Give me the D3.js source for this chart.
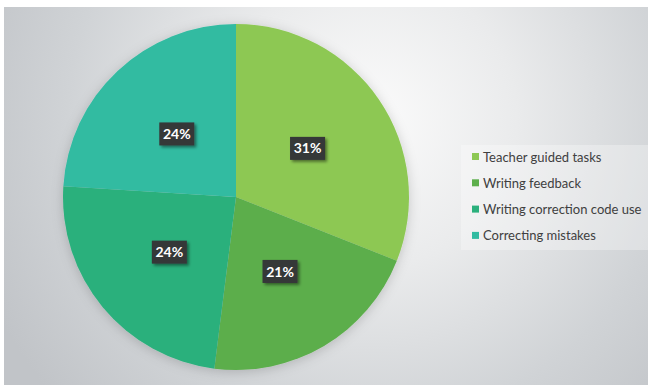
<!DOCTYPE html>
<html>
<head>
<meta charset="utf-8">
<script src="https://cdn.jsdelivr.net/npm/d3@7"></script>
<style>
  html, body { margin: 0; padding: 0; background: #ffffff; }
  svg { display: block; }
</style>
</head>
<body>
<svg id="chart" width="648" height="385"></svg>
<script>
// Share of activities, in percent
const categories = ["Teacher guided tasks", "Writing feedback", "Writing correction code use", "Correcting mistakes"];
const values = [31, 21, 24, 24];
const colors = ["#8dc853", "#5cae4b", "#2bb07c", "#31bba1"];

const W = 648, H = 385;
const svg = d3.select("#chart");
const defs = svg.append("defs");

// Plot area background: soft radial gradient, light in the middle, grey at the edges
const bg = defs.append("radialGradient")
  .attr("id", "bgGrad")
  .attr("gradientUnits", "userSpaceOnUse")
  .attr("cx", 370).attr("cy", 120).attr("r", 420);
bg.append("stop").attr("offset", "0%").attr("stop-color", "#fbfbfb");
bg.append("stop").attr("offset", "35%").attr("stop-color", "#eaebec");
bg.append("stop").attr("offset", "72%").attr("stop-color", "#d0d3d6");
bg.append("stop").attr("offset", "100%").attr("stop-color", "#c1c4c8");

const pieShadow = defs.append("filter").attr("id", "pieShadow")
  .attr("x", "-20%").attr("y", "-20%").attr("width", "140%").attr("height", "140%");
pieShadow.append("feDropShadow")
  .attr("dx", 0).attr("dy", 2).attr("stdDeviation", 6)
  .attr("flood-color", "#000").attr("flood-opacity", 0.18);

const boxShadow = defs.append("filter").attr("id", "boxShadow")
  .attr("x", "-30%").attr("y", "-30%").attr("width", "170%").attr("height", "170%");
boxShadow.append("feDropShadow")
  .attr("dx", 2).attr("dy", 2).attr("stdDeviation", 1.5)
  .attr("flood-color", "#000").attr("flood-opacity", 0.45);

svg.append("rect")
  .attr("x", 4).attr("y", 7)
  .attr("width", W - 4).attr("height", H - 7)
  .attr("fill", "url(#bgGrad)");

// Pie
const cx = 236, cy = 197, R = 173;
const pie = d3.pie().sort(null).value(d => d)(values);
const arc = d3.arc().innerRadius(0).outerRadius(R);
const labelArc = d3.arc().innerRadius(0).outerRadius(R);

const g = svg.append("g").attr("transform", `translate(${cx},${cy})`);
g.append("g").attr("filter", "url(#pieShadow)")
  .selectAll("path")
  .data(pie)
  .join("path")
  .attr("d", arc)
  .attr("fill", (d, i) => colors[i]);

// Percentage labels in dark boxes at each slice centroid
const labels = g.selectAll("g.lbl")
  .data(pie)
  .join("g")
  .attr("class", "lbl")
  .attr("transform", d => {
    const [x, y] = labelArc.centroid(d);
    return `translate(${x},${y})`;
  });
labels.append("rect")
  .attr("x", -17.5).attr("y", -11.5)
  .attr("width", 35).attr("height", 23)
  .attr("fill", "#363739")
  .attr("filter", "url(#boxShadow)");
labels.append("text")
  .attr("text-anchor", "middle")
  .attr("dy", "0.36em")
  .attr("font-family", "Lato, 'Open Sans', sans-serif")
  .attr("font-weight", 700)
  .attr("font-size", 14)
  .attr("fill", "#ffffff")
  .text(d => d.data + "%");

// Legend
const legend = svg.append("g").attr("transform", "translate(461,145)");
legend.append("rect")
  .attr("x", 0).attr("y", 0)
  .attr("width", W - 461).attr("height", 105)
  .attr("fill", "#ffffff").attr("fill-opacity", 0.3);
const rows = legend.selectAll("g.row")
  .data(categories)
  .join("g")
  .attr("class", "row")
  .attr("transform", (d, i) => `translate(11,${12 + i * 26.3})`);
rows.append("rect")
  .attr("x", 0).attr("y", -4)
  .attr("width", 7).attr("height", 7)
  .attr("fill", (d, i) => colors[i]);
rows.append("text")
  .attr("x", 11).attr("dy", "0.35em")
  .attr("font-family", "Lato, 'Open Sans', sans-serif")
  .attr("font-size", 13)
  .attr("fill", "#404040")
  .text(d => d);
</script>
</body>
</html>
